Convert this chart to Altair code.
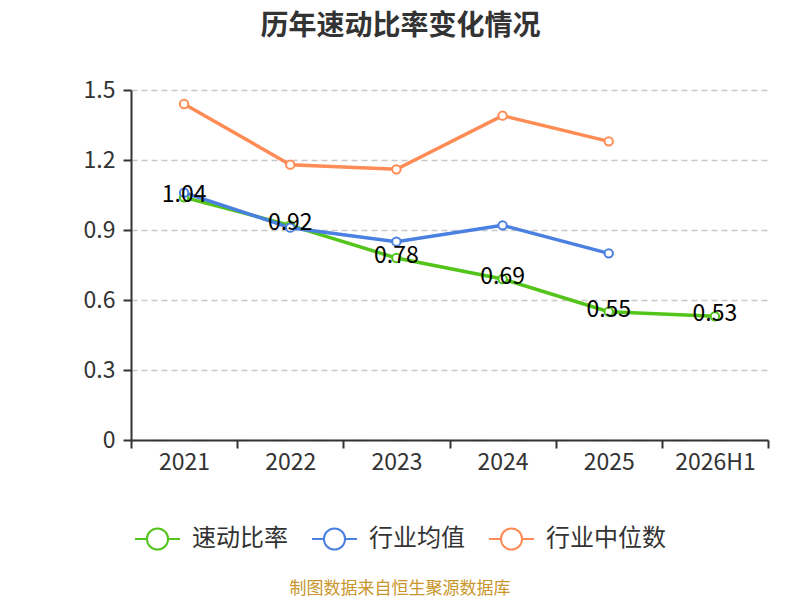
import altair as alt
import pandas as pd

years = ["2021", "2022", "2023", "2024", "2025", "2026H1"]
quick_ratio = [1.04, 0.92, 0.78, 0.69, 0.55, 0.53]
industry_mean = [1.06, 0.91, 0.85, 0.92, 0.80, None]
industry_median = [1.44, 1.18, 1.16, 1.39, 1.28, None]
series_names = ["速动比率", "行业均值", "行业中位数"]
colors = ["#52c41a", "#4a80e0", "#ff8c55"]

rows = []
for name, vals in zip(series_names, [quick_ratio, industry_mean, industry_median]):
    for y, v in zip(years, vals):
        if v is not None:
            rows.append({"year": y, "series": name, "value": v})
df = pd.DataFrame(rows)
df_main = df[df["series"] == "速动比率"]

FONT = "Noto Sans CJK SC"

legend_symbol = "M-1,0H-0.47 M0.47,0H1 M0.47,0A0.47,0.47 0 1,1 -0.47,0A0.47,0.47 0 1,1 0.47,0"

x_enc = alt.X("year:N", sort=years, scale=alt.Scale(domain=years, paddingInner=0, paddingOuter=0),
              axis=alt.Axis(title=None, labelAngle=0, tickBand="extent", labelFontSize=23,
                            labelColor="#333333", labelFont=FONT, domainColor="#333333",
                            tickColor="#333333", tickSize=8, domainWidth=2, tickWidth=2,
                            labelPadding=3, grid=False))
y_enc = alt.Y("value:Q", scale=alt.Scale(domain=[0, 1.5], nice=False),
              axis=alt.Axis(title=None, values=[0, 0.3, 0.6, 0.9, 1.2, 1.5], format="~g",
                            labelFontSize=23, labelColor="#333333", labelFont=FONT,
                            domainColor="#333333", tickColor="#333333", tickSize=8,
                            domainWidth=2, tickWidth=2, labelPadding=8,
                            grid=True, gridDash=[6, 4], gridColor="#c8c8c8", gridWidth=1.5))
color_enc = alt.Color("series:N", sort=series_names,
                      scale=alt.Scale(domain=series_names, range=colors),
                      legend=alt.Legend(title=None, orient="none", direction="horizontal",
                                        legendX=3, legendY=425, symbolType=legend_symbol,
                                        symbolSize=2025, symbolStrokeWidth=2,
                                        symbolFillColor="white", labelFontSize=24,
                                        labelFont=FONT, labelColor="#333333",
                                        columnPadding=20, labelOffset=11))

lines = alt.Chart(df).mark_line(strokeWidth=3.5).encode(x=x_enc, y=y_enc, color=color_enc)
points = alt.Chart(df).mark_point(filled=True, fill="white", size=70, strokeWidth=2, opacity=1).encode(
    x=alt.X("year:N", sort=years), y="value:Q",
    stroke=alt.Stroke("series:N", sort=series_names,
                      scale=alt.Scale(domain=series_names, range=colors), legend=None))
labels = alt.Chart(df_main).mark_text(fontSize=23, font=FONT, color="#000000", dy=-2, baseline="middle").encode(
    x=alt.X("year:N", sort=years), y="value:Q", text=alt.Text("value:Q", format=".2f"))

source = alt.Chart(pd.DataFrame({"t": ["制图数据来自恒生聚源数据库"]})).mark_text(
    fontSize=17, font=FONT, color="#c8962a", align="center", baseline="middle").encode(
    x=alt.value(269), y=alt.value(499), text="t:N")

chart = alt.layer(lines, points, labels, source).properties(
    width=637, height=350,
    title=alt.TitleParams("历年速动比率变化情况", fontSize=28, font=FONT, fontWeight="bold",
                          color="#333333", anchor="middle", dx=-49, offset=38),
    autosize=alt.AutoSizeParams(type="none"),
    padding={"left": 123, "top": 82, "right": 24, "bottom": 160},
).configure_view(stroke=None)

chart.save("out.html", embed_options={"renderer": "svg", "actions": False})
